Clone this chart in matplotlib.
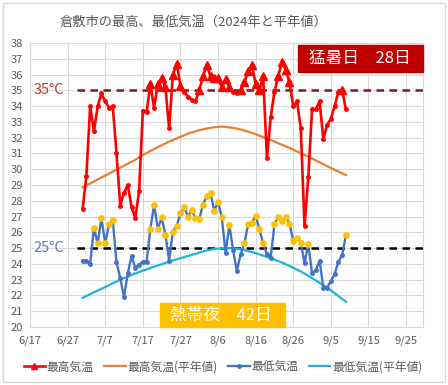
"""
倉敷市の最高・最低気温（2024年と平年値）のグラフ
"""
import datetime as dt

import matplotlib
matplotlib.use("Agg")
import matplotlib.pyplot as plt
import matplotlib.dates as mdates
from matplotlib.lines import Line2D
from matplotlib.patches import Rectangle
import numpy as np
import pandas as pd

plt.rcParams['font.family'] = ['Noto Sans CJK JP', 'DejaVu Sans']

# データ（2024/7/1 から毎日）
start_date = "2024-07-01"

tmax = [27.5, 29.6, 34.0, 32.4, 34.0, 34.8, 34.3, 33.9, 34.0, 31.0,
        27.7, 28.5, 29.0, 27.6, 26.9, 28.6, 33.7, 33.6, 35.4, 33.9,
        35.4, 35.8, 35.2, 32.6, 36.0, 36.7, 35.3, 34.9, 34.6, 34.4,
        34.3, 35.0, 35.9, 36.6, 35.9, 35.8, 35.8, 35.2, 35.7, 35.2,
        34.9, 34.8, 35.0, 35.5, 36.2, 36.6, 35.4, 35.0, 35.9, 30.7,
        33.3, 34.9, 35.9, 36.8, 36.3, 35.5, 34.0, 34.3, 32.6, 26.4,
        29.5, 33.8, 33.8, 34.3, 31.9, 32.8, 33.2, 34.0, 34.9, 35.0,
        33.8]

tmax_normal = [28.85, 28.98, 29.1, 29.22, 29.35, 29.47, 29.6, 29.72, 29.85, 29.97,
               30.1, 30.22, 30.35, 30.47, 30.6, 30.75, 30.9, 31.02, 31.15, 31.28,
               31.4, 31.52, 31.63, 31.75, 31.85, 31.95, 32.05, 32.15, 32.25, 32.33,
               32.4, 32.47, 32.53, 32.58, 32.62, 32.66, 32.68, 32.7, 32.68, 32.65,
               32.62, 32.58, 32.52, 32.45, 32.38, 32.3, 32.22, 32.13, 32.04, 31.95,
               31.85, 31.75, 31.65, 31.55, 31.45, 31.35, 31.24, 31.13, 31.02, 30.91,
               30.8, 30.68, 30.56, 30.44, 30.32, 30.2, 30.08, 29.96, 29.85, 29.74,
               29.63]

tmin = [24.2, 24.2, 24.0, 26.3, 25.3, 26.9, 25.3, 26.5, 26.8, 24.1,
        23.1, 21.9, 23.4, 24.5, 23.75, 23.95, 24.15, 24.15, 26.2, 27.75,
        26.2, 26.95, 25.85, 24.2, 26.05, 26.4, 27.2, 27.6, 27.0, 27.4,
        26.9, 26.85, 27.75, 28.3, 28.5, 27.35, 27.95, 26.95, 24.7, 26.45,
        24.9, 23.55, 24.6, 25.3, 26.5, 26.6, 27.05, 26.2, 25.3, 24.6,
        24.4, 26.5, 27.0, 26.7, 27.0, 26.55, 25.45, 25.65, 25.35, 24.05,
        25.25, 23.4, 23.6, 24.2, 22.5, 22.5, 22.9, 23.35, 24.15, 24.55,
        25.8]

tmin_normal = [21.85, 21.97, 22.08, 22.2, 22.3, 22.42, 22.53, 22.65, 22.77, 22.88,
               23.0, 23.1, 23.2, 23.3, 23.4, 23.48, 23.57, 23.65, 23.74, 23.82,
               23.9, 23.98, 24.06, 24.14, 24.22, 24.29, 24.36, 24.43, 24.5, 24.57,
               24.64, 24.72, 24.79, 24.85, 24.9, 24.94, 24.97, 24.99, 25.0, 25.0,
               24.99, 24.96, 24.92, 24.87, 24.81, 24.75, 24.68, 24.6, 24.52, 24.44,
               24.36, 24.27, 24.18, 24.08, 23.98, 23.87, 23.76, 23.64, 23.52, 23.38,
               23.24, 23.1, 22.95, 22.8, 22.65, 22.5, 22.32, 22.14, 21.96, 21.78,
               21.6]

hot_day = 35        # 猛暑日
tropical_night = 25  # 熱帯夜
hot_label = "猛暑日　28日"
night_label = "熱帯夜　42日"
legend_labels = ["最高気温", "最高気温(平年値)", "最低気温", "最低気温(平年値)"]
title = "倉敷市の最高、最低気温（2024年と平年値）"

# 色
RED = "#FF0000"
ORANGE = "#ED7D31"
BLUE = "#4472C4"
CYAN = "#1CB4DA"
GOLD = "#FFC000"
DARKRED = "#C00000"
GRAY = "#595959"

dates = pd.date_range(start_date, periods=len(tmax), freq="D")
tmax = np.array(tmax)
tmin = np.array(tmin)

W, H = 448, 385
fig = plt.figure(figsize=(W / 100, H / 100), dpi=100)
ax = fig.add_axes([30 / W, 1 - 327 / H, 393 / W, 284 / H])

# 軸
x0 = dt.datetime(2024, 6, 17)
ax.set_xlim(x0, x0 + dt.timedelta(days=104.5))
ax.set_ylim(20, 38)
ax.set_yticks(range(20, 39))
ax.set_xticks([x0 + dt.timedelta(days=10 * k) for k in range(11)])
ax.xaxis.set_major_formatter(plt.FuncFormatter(
    lambda v, p: f"{mdates.num2date(v).month}/{mdates.num2date(v).day}"))
ax.tick_params(length=0, labelsize=8, colors=GRAY)
ax.tick_params(axis="x", pad=6)
ax.tick_params(axis="y", pad=5)
ax.grid(True, color="#D9D9D9", lw=0.8)
ax.set_axisbelow(True)
for s in ax.spines.values():
    s.set_color("#D9D9D9")
    s.set_linewidth(0.8)

# 平年値
ax.plot(dates, tmax_normal, color=ORANGE, lw=1.6, zorder=3)
ax.plot(dates, tmin_normal, color=CYAN, lw=1.6, zorder=3)

# 35℃, 25℃ の線
ax.axhline(hot_day, xmin=0.12, color="#7B1A1A", lw=1.8, ls=(0, (3, 2.2)), zorder=2)
ax.axhline(tropical_night, xmin=0.12, color="black", lw=1.8, ls=(0, (3, 2.2)), zorder=2)
ax.text(0.008, hot_day, "35°C", transform=ax.get_yaxis_transform(),
        color="#C0392B", fontsize=10.5, va="center", ha="left")
ax.text(0.008, tropical_night, "25°C", transform=ax.get_yaxis_transform(),
        color="#5B7DB8", fontsize=10.5, va="center", ha="left")

# 最低気温
ax.plot(dates, tmin, color=BLUE, lw=1.7, marker="o", ms=2.5, zorder=4)
warm = tmin >= tropical_night
ax.plot(dates[warm], tmin[warm], ls="none", marker="o", ms=3.8,
        color=GOLD, mec=GOLD, zorder=5)

# 最高気温
ax.plot(dates, tmax, color=RED, lw=1.9, marker="o", ms=2.5, zorder=6)
hot = tmax >= hot_day
ax.plot(dates[hot], tmax[hot], ls="none", marker="^", ms=5.5, color=RED, zorder=7)

# ボックス
fig.patches.append(Rectangle((298 / W, 1 - 72 / H), 125 / W, 27 / H,
                             transform=fig.transFigure, color=DARKRED, zorder=10))
fig.text(360 / W, 1 - 58.5 / H, hot_label, color="white", fontsize=12,
         ha="center", va="center", zorder=11)
fig.patches.append(Rectangle((160 / W, 1 - 327 / H), 125 / W, 24 / H,
                             transform=fig.transFigure, color=GOLD, zorder=10))
fig.text(221 / W, 1 - 315.5 / H, night_label, color="white", fontsize=12,
         ha="center", va="center", zorder=11)

# タイトル
fig.text(193 / W, 1 - 22 / H, title, color=GRAY, fontsize=9.5,
         ha="center", va="center")

# 凡例
handles = [
    Line2D([], [], color=RED, lw=1.9, marker="^", ms=4),
    Line2D([], [], color=ORANGE, lw=1.6),
    Line2D([], [], color=BLUE, lw=1.7, marker="o", ms=2.5),
    Line2D([], [], color=CYAN, lw=1.6),
]
fig.legend(handles, legend_labels, loc="center", bbox_to_anchor=(223 / W, 1 - 367 / H),
           ncol=4, frameon=False, fontsize=8.5, handlelength=1.8,
           handletextpad=0.15, columnspacing=0.9, labelcolor=GRAY)

# 外枠
fig.patches.append(Rectangle((3 / W, 3 / H), 442 / W, 379 / H, transform=fig.transFigure,
                             fill=False, edgecolor="#D9D9D9", lw=1))

fig.savefig("out.png", dpi=100, facecolor="white")
